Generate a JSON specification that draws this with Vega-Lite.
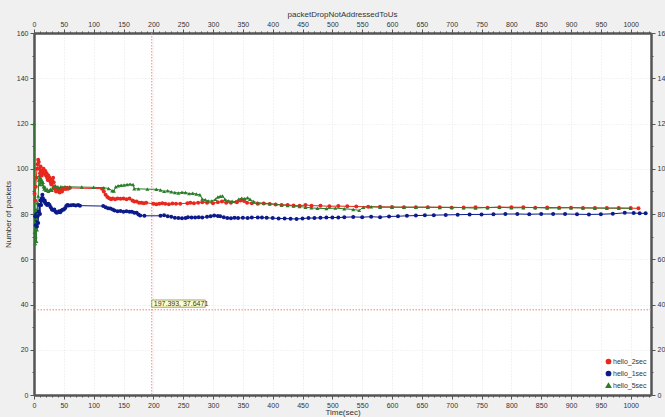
{
"$schema":"https://vega.github.io/schema/vega-lite/v6.json",
"width":617,"height":362,
"autosize":{"type":"none"},
"padding":{"left":34,"top":33,"right":14,"bottom":22},
"background":"#f0f0f0",
"view":{"fill":"white","stroke":null},
"title":{"text":"packetDropNotAddressedToUs","fontSize":8,"fontWeight":"normal","color":"#333333","font":"Liberation Sans","offset":1,"anchor":"middle"},
"config":{"font":"Liberation Sans","axis":{"labelFont":"Liberation Sans","labelFontSize":7,"labelColor":"#333333","tickColor":"#555555","domainColor":"#555555","domainWidth":2.5,"labelOverlap":false,"labelFlush":false,"titleFont":"Liberation Sans","titleFontSize":8,"titleFontWeight":"normal","titleColor":"#333333","labelPadding":2}},
"datasets":{
"cross":[{"t":197.393,"v":37.6471,"label":"197.393, 37.6471"}],
"series":[
{"s":"hello_2sec","t":1,"v":89},{"s":"hello_2sec","t":2,"v":86},{"s":"hello_2sec","t":3,"v":92},{"s":"hello_2sec","t":4,"v":96},{"s":"hello_2sec","t":5,"v":100},{"s":"hello_2sec","t":6,"v":102},{"s":"hello_2sec","t":7,"v":104},{"s":"hello_2sec","t":8,"v":103},{"s":"hello_2sec","t":9,"v":100},{"s":"hello_2sec","t":10,"v":98},{"s":"hello_2sec","t":11,"v":101},{"s":"hello_2sec","t":12,"v":99},{"s":"hello_2sec","t":13,"v":97},{"s":"hello_2sec","t":14,"v":99},{"s":"hello_2sec","t":15,"v":98},{"s":"hello_2sec","t":16,"v":100},{"s":"hello_2sec","t":17,"v":99},{"s":"hello_2sec","t":18,"v":98},{"s":"hello_2sec","t":19,"v":99},{"s":"hello_2sec","t":20,"v":97},{"s":"hello_2sec","t":21,"v":98},{"s":"hello_2sec","t":22,"v":96},{"s":"hello_2sec","t":23,"v":95},{"s":"hello_2sec","t":24,"v":97},{"s":"hello_2sec","t":25,"v":95},{"s":"hello_2sec","t":26,"v":96},{"s":"hello_2sec","t":27,"v":95},{"s":"hello_2sec","t":28,"v":94},{"s":"hello_2sec","t":29,"v":93},{"s":"hello_2sec","t":30,"v":95},{"s":"hello_2sec","t":31,"v":94},{"s":"hello_2sec","t":32,"v":96},{"s":"hello_2sec","t":33,"v":94},{"s":"hello_2sec","t":34,"v":92},{"s":"hello_2sec","t":35,"v":91},{"s":"hello_2sec","t":37,"v":90},{"s":"hello_2sec","t":39,"v":91},{"s":"hello_2sec","t":41,"v":90},{"s":"hello_2sec","t":43,"v":89.5},{"s":"hello_2sec","t":45,"v":91},{"s":"hello_2sec","t":47,"v":90},{"s":"hello_2sec","t":49,"v":91},{"s":"hello_2sec","t":51,"v":91.5},{"s":"hello_2sec","t":53,"v":91},{"s":"hello_2sec","t":55,"v":91.5},{"s":"hello_2sec","t":57,"v":91.2},{"s":"hello_2sec","t":60,"v":91.5},{"s":"hello_2sec","t":114,"v":91.2},{"s":"hello_2sec","t":117,"v":90},{"s":"hello_2sec","t":120,"v":88.5},{"s":"hello_2sec","t":123,"v":87.5},{"s":"hello_2sec","t":126,"v":87},{"s":"hello_2sec","t":129,"v":86.5},{"s":"hello_2sec","t":132,"v":86.8},{"s":"hello_2sec","t":136,"v":86.5},{"s":"hello_2sec","t":140,"v":86.8},{"s":"hello_2sec","t":145,"v":86.7},{"s":"hello_2sec","t":150,"v":86.8},{"s":"hello_2sec","t":155,"v":86.5},{"s":"hello_2sec","t":160,"v":86.8},{"s":"hello_2sec","t":165,"v":86},{"s":"hello_2sec","t":168,"v":85.5},{"s":"hello_2sec","t":172,"v":85.5},{"s":"hello_2sec","t":176,"v":85},{"s":"hello_2sec","t":180,"v":85},{"s":"hello_2sec","t":184,"v":84.8},{"s":"hello_2sec","t":188,"v":85},{"s":"hello_2sec","t":200,"v":84.5},{"s":"hello_2sec","t":205,"v":84.3},{"s":"hello_2sec","t":210,"v":84.5},{"s":"hello_2sec","t":215,"v":84.8},{"s":"hello_2sec","t":220,"v":84.5},{"s":"hello_2sec","t":226,"v":84.3},{"s":"hello_2sec","t":232,"v":84.6},{"s":"hello_2sec","t":238,"v":84.5},{"s":"hello_2sec","t":245,"v":84.5},{"s":"hello_2sec","t":257,"v":84.8},{"s":"hello_2sec","t":262,"v":85},{"s":"hello_2sec","t":268,"v":84.8},{"s":"hello_2sec","t":275,"v":85},{"s":"hello_2sec","t":282,"v":85.2},{"s":"hello_2sec","t":290,"v":85},{"s":"hello_2sec","t":300,"v":84.8},{"s":"hello_2sec","t":308,"v":85.2},{"s":"hello_2sec","t":315,"v":85.5},{"s":"hello_2sec","t":322,"v":85},{"s":"hello_2sec","t":330,"v":85},{"s":"hello_2sec","t":340,"v":85.2},{"s":"hello_2sec","t":346,"v":86},{"s":"hello_2sec","t":352,"v":85.8},{"s":"hello_2sec","t":357,"v":85},{"s":"hello_2sec","t":365,"v":84.8},{"s":"hello_2sec","t":375,"v":84.5},{"s":"hello_2sec","t":385,"v":84.6},{"s":"hello_2sec","t":395,"v":84.4},{"s":"hello_2sec","t":405,"v":84.2},{"s":"hello_2sec","t":415,"v":84},{"s":"hello_2sec","t":425,"v":84},{"s":"hello_2sec","t":435,"v":83.8},{"s":"hello_2sec","t":445,"v":83.6},{"s":"hello_2sec","t":455,"v":84},{"s":"hello_2sec","t":465,"v":83.7},{"s":"hello_2sec","t":480,"v":83.6},{"s":"hello_2sec","t":495,"v":83.4},{"s":"hello_2sec","t":510,"v":83.5},{"s":"hello_2sec","t":525,"v":83.4},{"s":"hello_2sec","t":540,"v":83.3},{"s":"hello_2sec","t":560,"v":83.2},{"s":"hello_2sec","t":580,"v":83.2},{"s":"hello_2sec","t":600,"v":83.1},{"s":"hello_2sec","t":620,"v":83},{"s":"hello_2sec","t":640,"v":83},{"s":"hello_2sec","t":660,"v":83},{"s":"hello_2sec","t":680,"v":83},{"s":"hello_2sec","t":700,"v":82.8},{"s":"hello_2sec","t":720,"v":82.9},{"s":"hello_2sec","t":740,"v":83},{"s":"hello_2sec","t":760,"v":82.8},{"s":"hello_2sec","t":780,"v":83},{"s":"hello_2sec","t":800,"v":83},{"s":"hello_2sec","t":820,"v":83},{"s":"hello_2sec","t":840,"v":82.8},{"s":"hello_2sec","t":860,"v":82.9},{"s":"hello_2sec","t":880,"v":82.8},{"s":"hello_2sec","t":900,"v":82.8},{"s":"hello_2sec","t":920,"v":82.7},{"s":"hello_2sec","t":940,"v":82.7},{"s":"hello_2sec","t":960,"v":82.6},{"s":"hello_2sec","t":980,"v":82.6},{"s":"hello_2sec","t":1000,"v":82.6},{"s":"hello_2sec","t":1013,"v":82.5},
{"s":"hello_5sec","t":0,"v":120},{"s":"hello_5sec","t":1,"v":72},{"s":"hello_5sec","t":1.5,"v":80},{"s":"hello_5sec","t":2,"v":67},{"s":"hello_5sec","t":2.5,"v":76},{"s":"hello_5sec","t":3,"v":70},{"s":"hello_5sec","t":3.5,"v":82},{"s":"hello_5sec","t":4,"v":68},{"s":"hello_5sec","t":4.5,"v":78},{"s":"hello_5sec","t":5,"v":73},{"s":"hello_5sec","t":5.5,"v":85},{"s":"hello_5sec","t":6,"v":80},{"s":"hello_5sec","t":7,"v":88},{"s":"hello_5sec","t":8,"v":95},{"s":"hello_5sec","t":9,"v":97},{"s":"hello_5sec","t":10,"v":93},{"s":"hello_5sec","t":11,"v":96},{"s":"hello_5sec","t":12,"v":94},{"s":"hello_5sec","t":13,"v":95},{"s":"hello_5sec","t":14,"v":93},{"s":"hello_5sec","t":15,"v":94},{"s":"hello_5sec","t":16,"v":92},{"s":"hello_5sec","t":17,"v":91},{"s":"hello_5sec","t":18,"v":92},{"s":"hello_5sec","t":20,"v":90.5},{"s":"hello_5sec","t":22,"v":91},{"s":"hello_5sec","t":24,"v":90},{"s":"hello_5sec","t":26,"v":90.5},{"s":"hello_5sec","t":28,"v":91},{"s":"hello_5sec","t":30,"v":90.5},{"s":"hello_5sec","t":32,"v":92},{"s":"hello_5sec","t":34,"v":91.5},{"s":"hello_5sec","t":36,"v":92.5},{"s":"hello_5sec","t":38,"v":91.5},{"s":"hello_5sec","t":40,"v":92},{"s":"hello_5sec","t":42,"v":91.5},{"s":"hello_5sec","t":45,"v":92},{"s":"hello_5sec","t":48,"v":91.8},{"s":"hello_5sec","t":52,"v":92},{"s":"hello_5sec","t":56,"v":91.8},{"s":"hello_5sec","t":60,"v":92},{"s":"hello_5sec","t":80,"v":91.9},{"s":"hello_5sec","t":100,"v":91.8},{"s":"hello_5sec","t":117,"v":91.6},{"s":"hello_5sec","t":125,"v":91.3},{"s":"hello_5sec","t":131,"v":90.3},{"s":"hello_5sec","t":134,"v":90.2},{"s":"hello_5sec","t":137,"v":92},{"s":"hello_5sec","t":141,"v":92.5},{"s":"hello_5sec","t":146,"v":92.7},{"s":"hello_5sec","t":151,"v":92.8},{"s":"hello_5sec","t":156,"v":93},{"s":"hello_5sec","t":161,"v":93.2},{"s":"hello_5sec","t":166,"v":93},{"s":"hello_5sec","t":168,"v":91.2},{"s":"hello_5sec","t":175,"v":91.1},{"s":"hello_5sec","t":190,"v":91},{"s":"hello_5sec","t":205,"v":90.9},{"s":"hello_5sec","t":212,"v":90.6},{"s":"hello_5sec","t":218,"v":90},{"s":"hello_5sec","t":224,"v":90.3},{"s":"hello_5sec","t":230,"v":89.8},{"s":"hello_5sec","t":236,"v":89.5},{"s":"hello_5sec","t":242,"v":89.3},{"s":"hello_5sec","t":248,"v":89.6},{"s":"hello_5sec","t":254,"v":89.5},{"s":"hello_5sec","t":260,"v":89},{"s":"hello_5sec","t":266,"v":89.2},{"s":"hello_5sec","t":272,"v":88.8},{"s":"hello_5sec","t":278,"v":88.5},{"s":"hello_5sec","t":282,"v":86.6},{"s":"hello_5sec","t":287,"v":86.3},{"s":"hello_5sec","t":292,"v":85.8},{"s":"hello_5sec","t":298,"v":85.7},{"s":"hello_5sec","t":304,"v":86.5},{"s":"hello_5sec","t":308,"v":87.5},{"s":"hello_5sec","t":312,"v":87.8},{"s":"hello_5sec","t":316,"v":88},{"s":"hello_5sec","t":320,"v":86.5},{"s":"hello_5sec","t":326,"v":85.8},{"s":"hello_5sec","t":332,"v":85.6},{"s":"hello_5sec","t":338,"v":85.5},{"s":"hello_5sec","t":343,"v":86.5},{"s":"hello_5sec","t":348,"v":87},{"s":"hello_5sec","t":353,"v":86.8},{"s":"hello_5sec","t":358,"v":87.2},{"s":"hello_5sec","t":362,"v":86.5},{"s":"hello_5sec","t":368,"v":85.5},{"s":"hello_5sec","t":375,"v":85},{"s":"hello_5sec","t":385,"v":84.8},{"s":"hello_5sec","t":395,"v":84.6},{"s":"hello_5sec","t":405,"v":84.3},{"s":"hello_5sec","t":415,"v":84},{"s":"hello_5sec","t":425,"v":83.8},{"s":"hello_5sec","t":435,"v":83.5},{"s":"hello_5sec","t":445,"v":83.3},{"s":"hello_5sec","t":455,"v":83},{"s":"hello_5sec","t":465,"v":82.7},{"s":"hello_5sec","t":475,"v":82.5},{"s":"hello_5sec","t":490,"v":82.4},{"s":"hello_5sec","t":505,"v":82.6},{"s":"hello_5sec","t":520,"v":82.3},{"s":"hello_5sec","t":535,"v":82},{"s":"hello_5sec","t":545,"v":81.6},{"s":"hello_5sec","t":552,"v":83},{"s":"hello_5sec","t":565,"v":83.2},{"s":"hello_5sec","t":580,"v":83},{"s":"hello_5sec","t":600,"v":83},{"s":"hello_5sec","t":620,"v":83},{"s":"hello_5sec","t":640,"v":83},{"s":"hello_5sec","t":660,"v":83},{"s":"hello_5sec","t":680,"v":82.9},{"s":"hello_5sec","t":700,"v":83},{"s":"hello_5sec","t":720,"v":82.8},{"s":"hello_5sec","t":740,"v":82.6},{"s":"hello_5sec","t":760,"v":82.9},{"s":"hello_5sec","t":780,"v":83},{"s":"hello_5sec","t":800,"v":82.7},{"s":"hello_5sec","t":820,"v":82.8},{"s":"hello_5sec","t":840,"v":82.9},{"s":"hello_5sec","t":860,"v":82.6},{"s":"hello_5sec","t":880,"v":82.7},{"s":"hello_5sec","t":900,"v":82.8},{"s":"hello_5sec","t":920,"v":82.7},{"s":"hello_5sec","t":940,"v":82.6},{"s":"hello_5sec","t":960,"v":82.6},{"s":"hello_5sec","t":980,"v":82.6},{"s":"hello_5sec","t":1000,"v":82.5},
{"s":"hello_1sec","t":2,"v":79},{"s":"hello_1sec","t":3,"v":75},{"s":"hello_1sec","t":4,"v":80},{"s":"hello_1sec","t":5,"v":74.5},{"s":"hello_1sec","t":6,"v":79},{"s":"hello_1sec","t":7,"v":76},{"s":"hello_1sec","t":8,"v":81},{"s":"hello_1sec","t":9,"v":84},{"s":"hello_1sec","t":10,"v":80},{"s":"hello_1sec","t":11,"v":86},{"s":"hello_1sec","t":12,"v":84},{"s":"hello_1sec","t":13,"v":87},{"s":"hello_1sec","t":14,"v":88.5},{"s":"hello_1sec","t":15,"v":87},{"s":"hello_1sec","t":16,"v":86},{"s":"hello_1sec","t":17,"v":85.5},{"s":"hello_1sec","t":18,"v":86},{"s":"hello_1sec","t":19,"v":85},{"s":"hello_1sec","t":20,"v":84.5},{"s":"hello_1sec","t":22,"v":84},{"s":"hello_1sec","t":24,"v":84.5},{"s":"hello_1sec","t":26,"v":84},{"s":"hello_1sec","t":28,"v":83},{"s":"hello_1sec","t":30,"v":82},{"s":"hello_1sec","t":32,"v":81.8},{"s":"hello_1sec","t":34,"v":82},{"s":"hello_1sec","t":36,"v":81},{"s":"hello_1sec","t":38,"v":80.5},{"s":"hello_1sec","t":40,"v":80.8},{"s":"hello_1sec","t":42,"v":81.2},{"s":"hello_1sec","t":44,"v":80.8},{"s":"hello_1sec","t":46,"v":81.5},{"s":"hello_1sec","t":48,"v":81.9},{"s":"hello_1sec","t":50,"v":82},{"s":"hello_1sec","t":52,"v":82.5},{"s":"hello_1sec","t":54,"v":83.5},{"s":"hello_1sec","t":56,"v":84},{"s":"hello_1sec","t":58,"v":83.8},{"s":"hello_1sec","t":62,"v":83.9},{"s":"hello_1sec","t":66,"v":84},{"s":"hello_1sec","t":70,"v":83.8},{"s":"hello_1sec","t":74,"v":84},{"s":"hello_1sec","t":77,"v":83.7},{"s":"hello_1sec","t":116,"v":83.5},{"s":"hello_1sec","t":120,"v":83},{"s":"hello_1sec","t":124,"v":82.5},{"s":"hello_1sec","t":128,"v":82.4},{"s":"hello_1sec","t":132,"v":82},{"s":"hello_1sec","t":135,"v":81.5},{"s":"hello_1sec","t":140,"v":81.2},{"s":"hello_1sec","t":145,"v":81.3},{"s":"hello_1sec","t":150,"v":81},{"s":"hello_1sec","t":155,"v":81.2},{"s":"hello_1sec","t":160,"v":81},{"s":"hello_1sec","t":164,"v":81},{"s":"hello_1sec","t":168,"v":80.6},{"s":"hello_1sec","t":172,"v":80.5},{"s":"hello_1sec","t":175,"v":79.8},{"s":"hello_1sec","t":178,"v":79.3},{"s":"hello_1sec","t":185,"v":79.2},{"s":"hello_1sec","t":212,"v":79.2},{"s":"hello_1sec","t":218,"v":79.4},{"s":"hello_1sec","t":224,"v":79},{"s":"hello_1sec","t":230,"v":78.8},{"s":"hello_1sec","t":236,"v":78.3},{"s":"hello_1sec","t":242,"v":78.2},{"s":"hello_1sec","t":248,"v":78.1},{"s":"hello_1sec","t":254,"v":78.2},{"s":"hello_1sec","t":258,"v":78.6},{"s":"hello_1sec","t":264,"v":78.4},{"s":"hello_1sec","t":270,"v":78.5},{"s":"hello_1sec","t":276,"v":78.6},{"s":"hello_1sec","t":282,"v":78.4},{"s":"hello_1sec","t":290,"v":78.8},{"s":"hello_1sec","t":296,"v":79},{"s":"hello_1sec","t":302,"v":79.3},{"s":"hello_1sec","t":308,"v":79.1},{"s":"hello_1sec","t":312,"v":79},{"s":"hello_1sec","t":318,"v":78.6},{"s":"hello_1sec","t":324,"v":78.2},{"s":"hello_1sec","t":330,"v":78.1},{"s":"hello_1sec","t":336,"v":78.3},{"s":"hello_1sec","t":342,"v":78.2},{"s":"hello_1sec","t":350,"v":78.3},{"s":"hello_1sec","t":358,"v":78.2},{"s":"hello_1sec","t":365,"v":78.4},{"s":"hello_1sec","t":375,"v":78.5},{"s":"hello_1sec","t":382,"v":78.4},{"s":"hello_1sec","t":390,"v":78.3},{"s":"hello_1sec","t":400,"v":78.2},{"s":"hello_1sec","t":410,"v":78},{"s":"hello_1sec","t":420,"v":78},{"s":"hello_1sec","t":430,"v":77.9},{"s":"hello_1sec","t":440,"v":77.8},{"s":"hello_1sec","t":450,"v":78},{"s":"hello_1sec","t":460,"v":78.2},{"s":"hello_1sec","t":470,"v":78.2},{"s":"hello_1sec","t":480,"v":78.3},{"s":"hello_1sec","t":490,"v":78.4},{"s":"hello_1sec","t":500,"v":78.5},{"s":"hello_1sec","t":510,"v":78.4},{"s":"hello_1sec","t":520,"v":78.6},{"s":"hello_1sec","t":535,"v":78.7},{"s":"hello_1sec","t":550,"v":78.6},{"s":"hello_1sec","t":565,"v":78.8},{"s":"hello_1sec","t":580,"v":78.6},{"s":"hello_1sec","t":595,"v":78.9},{"s":"hello_1sec","t":610,"v":79},{"s":"hello_1sec","t":625,"v":79.2},{"s":"hello_1sec","t":640,"v":79.3},{"s":"hello_1sec","t":655,"v":79.4},{"s":"hello_1sec","t":670,"v":79.5},{"s":"hello_1sec","t":690,"v":79.6},{"s":"hello_1sec","t":710,"v":79.7},{"s":"hello_1sec","t":730,"v":79.8},{"s":"hello_1sec","t":750,"v":79.8},{"s":"hello_1sec","t":770,"v":79.9},{"s":"hello_1sec","t":790,"v":80},{"s":"hello_1sec","t":810,"v":80},{"s":"hello_1sec","t":830,"v":79.9},{"s":"hello_1sec","t":850,"v":80},{"s":"hello_1sec","t":870,"v":80},{"s":"hello_1sec","t":890,"v":80},{"s":"hello_1sec","t":910,"v":79.9},{"s":"hello_1sec","t":930,"v":79.8},{"s":"hello_1sec","t":950,"v":79.9},{"s":"hello_1sec","t":970,"v":80.1},{"s":"hello_1sec","t":990,"v":80.5},{"s":"hello_1sec","t":1005,"v":80.4},{"s":"hello_1sec","t":1015,"v":80.3},{"s":"hello_1sec","t":1025,"v":80.3}
]},
"resolve":{"axis":{"x":"independent","y":"independent"}},
"layer":[
{"data":{"name":"cross"},"mark":{"type":"rule","color":"#f08080","strokeDash":[1.5,1.5],"strokeWidth":1},
 "encoding":{"x":{"field":"t","type":"quantitative","scale":{"domain":[0,1034],"nice":false,"zero":false},
  "axis":{"orient":"bottom","title":"Time(sec)","titlePadding":0,"format":"d","values":[0,10,20,30,40,50,60,70,80,90,100,110,120,130,140,150,160,170,180,190,200,210,220,230,240,250,260,270,280,290,300,310,320,330,340,350,360,370,380,390,400,410,420,430,440,450,460,470,480,490,500,510,520,530,540,550,560,570,580,590,600,610,620,630,640,650,660,670,680,690,700,710,720,730,740,750,760,770,780,790,800,810,820,830,840,850,860,870,880,890,900,910,920,930,940,950,960,970,980,990,1000,1010,1020,1030],
   "labelExpr":"datum.value % 50 === 0 ? datum.label : ''",
   "tickSize":{"condition":{"test":"datum.value % 50 === 0","value":4},"value":2},
   "grid":true,"gridColor":"#e4e4e4","gridDash":[1,2],
   "gridOpacity":{"condition":{"test":"datum.value % 50 === 0","value":1},"value":0}}}}},
{"data":{"name":"cross"},"mark":{"type":"rule","color":"#f08080","strokeDash":[1.5,1.5],"strokeWidth":1},
 "encoding":{"y":{"field":"v","type":"quantitative","scale":{"domain":[0,160],"nice":false,"zero":false},
  "axis":{"orient":"left","title":"Number of packets","titlePadding":4,"format":"d","values":[0,10,20,30,40,50,60,70,80,90,100,110,120,130,140,150,160],
   "labelExpr":"datum.value % 20 === 0 ? datum.label : ''",
   "tickSize":{"condition":{"test":"datum.value % 20 === 0","value":4},"value":2},
   "grid":true,"gridColor":"#e8e8e8","gridDash":[1,2],
   "gridOpacity":{"condition":{"test":"datum.value % 20 === 0","value":1},"value":0}}}}},
{"data":{"name":"series"},"mark":{"type":"line","strokeWidth":1,"point":{"filled":true,"size":16}},
 "encoding":{
  "x":{"field":"t","type":"quantitative","axis":{"orient":"top","title":null,"grid":false,"format":"d","values":[0,10,20,30,40,50,60,70,80,90,100,110,120,130,140,150,160,170,180,190,200,210,220,230,240,250,260,270,280,290,300,310,320,330,340,350,360,370,380,390,400,410,420,430,440,450,460,470,480,490,500,510,520,530,540,550,560,570,580,590,600,610,620,630,640,650,660,670,680,690,700,710,720,730,740,750,760,770,780,790,800,810,820,830,840,850,860,870,880,890,900,910,920,930,940,950,960,970,980,990,1000,1010,1020,1030],
   "labelExpr":"datum.value % 50 === 0 ? datum.label : ''",
   "tickSize":{"condition":{"test":"datum.value % 50 === 0","value":4},"value":2}}},
  "y":{"field":"v","type":"quantitative","axis":{"orient":"right","title":null,"grid":false,"format":"d","values":[0,10,20,30,40,50,60,70,80,90,100,110,120,130,140,150,160],
   "labelExpr":"datum.value % 20 === 0 ? datum.label : ''",
   "tickSize":{"condition":{"test":"datum.value % 20 === 0","value":4},"value":2}}},
  "color":{"field":"s","type":"nominal","scale":{"domain":["hello_2sec","hello_1sec","hello_5sec"],"range":["#e8281e","#0c1a8c","#2a7d2a"]},
   "legend":{"title":null,"orient":"bottom-right","offset":4,"padding":0,"labelFontSize":7,"labelColor":"#333333","symbolSize":18,"rowPadding":1,"labelOffset":1}},
  "shape":{"field":"s","type":"nominal","scale":{"domain":["hello_2sec","hello_1sec","hello_5sec"],"range":["circle","circle","triangle-up"]}},
  "order":{"field":"t","type":"quantitative"}}},
{"data":{"name":"cross"},"mark":{"type":"rect","fill":"#ffffc8","stroke":"#7a7a5a","strokeWidth":0.7},
 "encoding":{"x":{"field":"t","type":"quantitative","axis":null},"x2":{"datum":287},"y":{"datum":38.8,"type":"quantitative","axis":null},"y2":{"datum":42}}},
{"data":{"name":"cross"},"mark":{"type":"text","align":"left","baseline":"bottom","dx":2,"dy":-3,"fontSize":7,"color":"#333333","font":"Liberation Sans"},
 "encoding":{"x":{"field":"t","type":"quantitative","axis":null},"y":{"field":"v","type":"quantitative","axis":null},"text":{"field":"label"}}}
]
}
